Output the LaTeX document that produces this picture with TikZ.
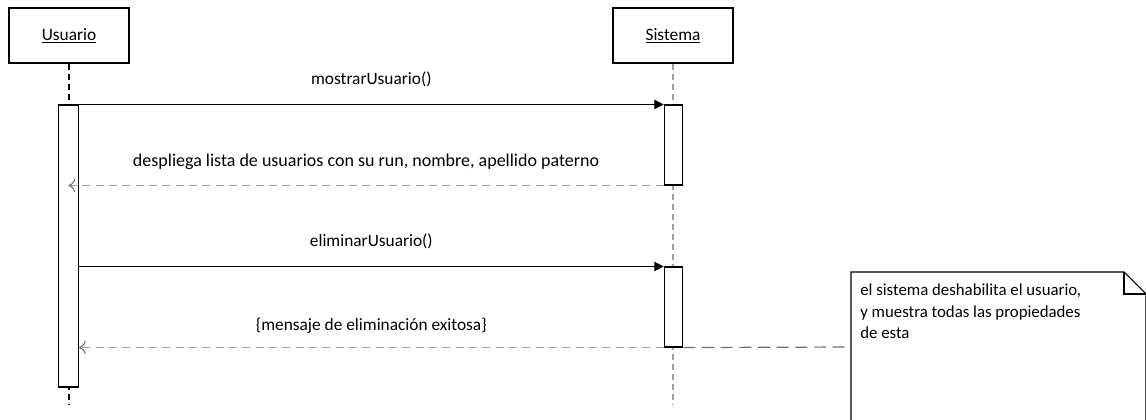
\documentclass[tikz,border=0pt]{standalone}
\usepackage{fontspec}
\setmainfont{Carlito}
\usetikzlibrary{arrows.meta,calc}
\definecolor{lifegray}{HTML}{A0A0A0}
\definecolor{notegray}{HTML}{6E6E6E}
\tikzset{
  actorbox/.style={draw, line width=0.9pt, minimum width=90pt, minimum height=41.25pt, inner sep=0pt, font=\fontsize{13}{15}\selectfont},
  actbar/.style={draw, line width=0.8pt, fill=white, minimum width=15pt, inner sep=0pt},
  callmsg/.style={line width=0.8pt, -{Triangle[length=7pt,width=7pt]}},
  backmsg/.style={line width=1pt, lifegray, dash pattern=on 6pt off 4pt, -{To[length=5pt,width=10pt,line width=0.8pt,color=notegray]}},
  msglabel/.style={font=\fontsize{13}{15}\selectfont, text=black, inner sep=0pt}
}
\begin{document}
\begin{tikzpicture}[x=0.75pt,y=-0.75pt]
  \useasboundingbox[fill=white] (0,0) rectangle (1146,419);

  % actors
  \node[actorbox] (usuario) at (69,35.5) {\underline{Usuario}};
  \node[actorbox] (sistema) at (673,35.5) {\underline{Sistema}};

  % lifelines
  \coordinate (uend) at (69,405);
  \coordinate (send) at (673,405);
  \draw[line width=0.8pt, dash pattern=on 4.5pt off 3pt] (usuario.south) -- (uend);
  \draw[line width=0.8pt, lifegray, dash pattern=on 4.5pt off 3pt] (sistema.south) -- (send);

  % activation bars
  \node[actbar, minimum height=211.5pt] (uact) at (68.5,246) {};
  \node[actbar, minimum height=60pt, minimum width=14pt] (sact1) at (673.5,145) {};
  \node[actbar, minimum height=60pt, minimum width=14pt] (sact2) at (673.5,307) {};

  % messages
  \draw[callmsg] (uact.east |- sact1.north) -- (sact1.north west)
    node[msglabel, midway, yshift=18.75pt] {mostrarUsuario()};
  \draw[backmsg] (sact1.south west) -- (uact.center |- sact1.south)
    node[msglabel, midway, yshift=18pt, font=\fontsize{13.5}{15}\selectfont] {despliega lista de usuarios con su run, nombre, apellido paterno};
  \draw[callmsg] (uact.east |- sact2.north) -- (sact2.north west)
    node[msglabel, midway, yshift=18.75pt] {eliminarUsuario()};
  \draw[backmsg] (sact2.south west) -- (uact.east |- sact2.south)
    node[msglabel, midway, yshift=16.5pt] {\{mensaje de eliminación exitosa\}};

  % note
  \draw[line width=0.8pt, fill=white] (851,425) -- (851,272) -- (1124,272) -- (1146,294) -- (1146,425);
  \draw[line width=0.8pt] (1124,272) -- (1124,294) -- (1146,294);
  \node[msglabel, anchor=north west, align=left, font=\fontsize{12.6}{16}\selectfont] (nota) at (860,284)
    {el sistema deshabilita el usuario,\\y muestra todas las propiedades\\de esta};
  \coordinate (notaw) at (851,347);
  \draw[line width=0.9pt, notegray, dash pattern=on 9pt off 5pt] (sact2.south east) -- (notaw);
\end{tikzpicture}
\end{document}
